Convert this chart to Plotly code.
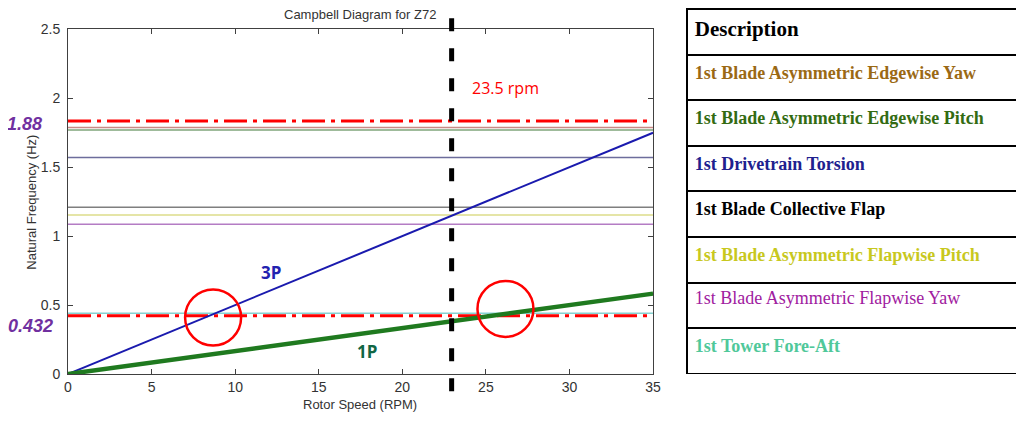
import plotly.graph_objects as go

# rotor speed range and excitation lines (Hz)
rpm = [0, 35]
freq_1p = [0, 0.583]
freq_3p = [0, 1.75]

# natural frequencies of the modes (Hz), same order as the table
mode_names = [
    "1st Blade Asymmetric Edgewise Yaw",
    "1st Blade Asymmetric Edgewise Pitch",
    "1st Drivetrain Torsion",
    "1st Blade Collective Flap",
    "1st Blade Asymmetric Flapwise Pitch",
    "1st Blade Asymmetric Flapwise Yaw",
    "1st Tower Fore-Aft",
]
mode_freqs = [1.788, 1.769, 1.571, 1.209, 1.154, 1.086, 0.441]
mode_line_colors = ["#c98a86", "#7fa57a", "#6d6d9c", "#7f7f7f", "#dcdc8a", "#b47cc4", "#86d2d2"]
mode_text_colors = ["#9b6914", "#336b12", "#20208e", "#000000", "#c8c81e", "#a020a0", "#50c89a"]
mode_bold = [True, True, True, True, True, False, True]

# frequency limits (red dash-dot) and their labels
limit_freqs = [1.835, 0.422]
limit_labels = ["1.88", "0.432"]

operating_rpm = 22.95
operating_label = "23.5 rpm"

# crossings that are circled (rpm, Hz)
crossings = [(8.68, 0.41), (26.17, 0.472)]

fig = go.Figure()

for f, c in zip(mode_freqs, mode_line_colors):
    fig.add_trace(go.Scatter(x=rpm, y=[f, f], mode="lines",
                             line=dict(color=c, width=1.5), hoverinfo="skip"))

for f in limit_freqs:
    fig.add_trace(go.Scatter(x=rpm, y=[f, f], mode="lines",
                             line=dict(color="#ff0000", width=3, dash="23px,6px,4px,6px"),
                             hoverinfo="skip"))

fig.add_trace(go.Scatter(x=rpm, y=freq_3p, mode="lines", line=dict(color="#1a1aae", width=2)))
fig.add_trace(go.Scatter(x=rpm, y=freq_1p, mode="lines", line=dict(color="#1f7a1f", width=4.5)))

# table of modes
cell_text = []
for name, b in zip(mode_names, mode_bold):
    cell_text.append("<b>" + name + "</b>" if b else name)

fig.add_trace(go.Table(
    domain=dict(x=[0.6707, 0.999], y=[0, 1]),
    columnwidth=[1],
    header=dict(values=["<b>Description</b>"], align="left", height=45.6,
                font=dict(family="Liberation Serif", size=21, color="black"),
                line=dict(color="black", width=2), fill=dict(color="white")),
    cells=dict(values=[cell_text], align="left", height=45.6,
               font=dict(family="Liberation Serif", size=18, color=[mode_text_colors]),
               line=dict(color="black", width=2), fill=dict(color="white")),
))

# operating speed line
fig.add_shape(type="line", xref="x", yref="paper", x0=operating_rpm, x1=operating_rpm,
              y0=0.975, y1=-0.052, line=dict(color="black", width=5, dash="13px,17px"))

for cx, cy in crossings:
    fig.add_shape(type="circle", xref="x", yref="y", xsizemode="pixel", ysizemode="pixel",
                  xanchor=cx, yanchor=cy, x0=-28, x1=28, y0=-28, y1=28,
                  line=dict(color="#ff0000", width=2.5))

ann_font = dict(family="Liberation Sans", size=13, color="#333333")
fig.add_annotation(text="Campbell Diagram for Z72", xref="paper", yref="paper",
                   x=0.3478, y=0.986, xanchor="center", yanchor="middle",
                   showarrow=False, font=ann_font)
fig.add_annotation(text="Rotor Speed (RPM)", xref="paper", yref="paper",
                   x=0.3478, y=-0.0822, xanchor="center", yanchor="middle",
                   showarrow=False, font=ann_font)
fig.add_annotation(text="Natural Frequency (Hz)", xref="paper", yref="paper",
                   x=0.0237, y=0.472, xanchor="center", yanchor="middle",
                   textangle=-90, showarrow=False, font=ann_font)

fig.add_annotation(text="<b><i>" + limit_labels[0] + "</i></b>", xref="paper", yref="y",
                   x=0.0356, y=limit_freqs[0], xanchor="right", yanchor="middle",
                   yshift=-3, showarrow=False,
                   font=dict(family="Liberation Sans", size=18, color="#7030a0"))
fig.add_annotation(text="<b><i>" + limit_labels[1] + "</i></b>", xref="paper", yref="y",
                   x=0.0464, y=limit_freqs[1], xanchor="right", yanchor="middle",
                   yshift=-10, showarrow=False,
                   font=dict(family="Liberation Sans", size=18, color="#7030a0"))

fig.add_annotation(text=operating_label, x=26.16, y=2.076, showarrow=False,
                   font=dict(family="Open Sans", size=16, color="#ff0000"))
fig.add_annotation(text="<b>3P</b>", x=12.13, y=0.738, showarrow=False,
                   font=dict(family="Open Sans", size=17, color="#2222b0"))
fig.add_annotation(text="<b>1P</b>", x=17.87, y=0.165, showarrow=False,
                   font=dict(family="Open Sans", size=17, color="#116644"))

axis_style = dict(showgrid=False, zeroline=False, showline=True, linecolor="#404040",
                  linewidth=1, mirror="ticks", ticks="inside", ticklen=5,
                  tickcolor="#404040", automargin=False,
                  tickfont=dict(family="Liberation Sans", size=14, color="#333333"))

# the page body adds an 8px offset, so the figure is 8px smaller than the window
fig.update_layout(
    width=1016, height=413,
    margin=dict(l=0, r=4, t=1, b=47),
    paper_bgcolor="white", plot_bgcolor="white",
    showlegend=False,
    xaxis=dict(range=[0, 35], dtick=5, domain=[0.0593, 0.6374], **axis_style),
    yaxis=dict(range=[0, 2.5], dtick=0.5, domain=[0, 0.9444], ticklabelstandoff=4,
               **axis_style),
)

fig.write_html("out.html")
